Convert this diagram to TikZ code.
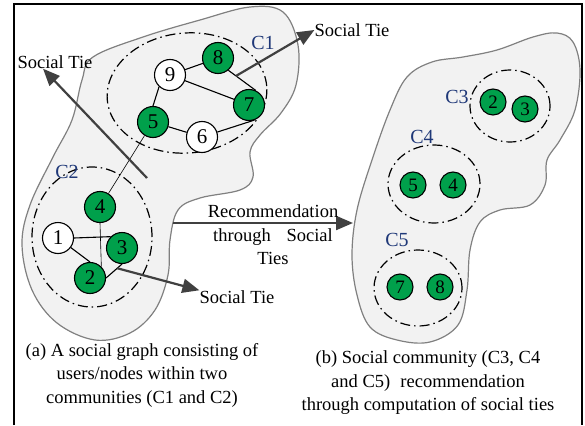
\documentclass[tikz,border=0pt]{standalone}
\usepackage{fontspec}
\setmainfont{Liberation Serif}
\usepackage{tikz}
\usetikzlibrary{arrows.meta}

\definecolor{usergreen}{RGB}{0,160,75}
\definecolor{commblue}{RGB}{31,56,120}
\definecolor{blobfill}{RGB}{242,242,242}
\definecolor{tiegray}{RGB}{64,64,64}

\begin{document}
\begin{tikzpicture}[x=1pt,y=-1pt]
	\useasboundingbox (0,0) rectangle (585,425);

		\tikzstyle{member}=[draw, circle, fill=usergreen, text=black, line width=1.1pt, minimum size=31pt, inner sep=0pt, font=\fontsize{21}{21}\selectfont]
		\tikzstyle{outsider}=[member, fill=white]
		\tikzstyle{small}=[member, minimum size=26pt, font=\fontsize{19}{19}\selectfont]

		\tikzstyle{blob}=[draw=gray, fill=blobfill, line width=1.2pt]
		\tikzstyle{community}=[draw, line width=1.2pt, dash pattern=on 10pt off 4pt on 1.5pt off 4pt]
		\tikzstyle{commname}=[text=commblue, font=\fontsize{20}{20}\selectfont]
		\tikzstyle{tietext}=[inner sep=0pt, font=\fontsize{18.5}{18.5}\selectfont]
		\tikzstyle{caption}=[align=center, font=\fontsize{18.5}{23.5}\selectfont]

		% frame
		\draw[line width=1.2pt] (14,425) -- (14,4) -- (582,4) -- (582,425);

		% the two groups
		\draw[blob] plot[smooth cycle, tension=0.6] coordinates {(93,57) (143,37) (200,20) (250,7) (283,12) (298,45) (296,85) (281,113) (260,135) (250,152) (253,177) (240,190) (200,198) (178,210) (170,240) (168,275) (155,310) (130,333) (95,340) (57,323) (32,290) (22,245) (30,205) (53,157) (72,120) (82,80)};
		\draw[blob] plot[smooth cycle, tension=0.6] coordinates {(390,110) (407,77) (432,62) (463,57) (497,50) (533,37) (557,33) (573,42) (580,70) (575,110) (560,140) (547,160) (545,185) (530,205) (500,210) (480,222) (470,250) (467,290) (458,325) (430,342) (397,340) (370,327) (357,295) (352,255) (357,210) (372,160)};

		% communities
		\draw[community] (187,93) ellipse [x radius=80pt, y radius=60pt, rotate=5];
		\draw[community] (92,237) ellipse [x radius=60pt, y radius=70pt];
		\draw[community] (510,106) ellipse [x radius=40pt, y radius=36pt];
		\draw[community] (434,184) ellipse [x radius=46pt, y radius=39pt];
		\draw[community] (418,288) ellipse [x radius=44pt, y radius=38pt];

		\node[commname] (C1) at (263,43) {C1};
		\node[commname] (C2) at (67,172) {C2};
		\node[commname] (C3) at (457,97) {C3};
		\node[commname] (C4) at (422,137) {C4};
		\node[commname] (C5) at (397,240) {C5};

		% users of the social graph
		\node[member] (N8) at (218,58) {8};
		\node[outsider] (N9) at (170,75) {9};
		\node[member] (N7) at (249,105) {7};
		\node[member] (N5) at (153,122) {5};
		\node[outsider] (N6) at (202,137) {6};
		\node[member] (N4) at (100,207) {4};
		\node[outsider] (N1) at (58,238) {1};
		\node[member] (N3) at (122,248) {3};
		\node[member] (N2) at (90,278) {2};

		\node[small] (R2) at (493,102) {2};
		\node[small] (R3) at (525,109) {3};
		\node[small] (R5) at (413,185) {5};
		\node[small] (R4) at (453,185) {4};
		\node[small] (R7) at (400,287) {7};
		\node[small] (R8) at (440,287) {8};

		\draw[line width=1.1pt] (N9) -- (N8);
		\draw[line width=1.1pt] (N8.-50) -- coordinate[pos=0.28] (T1) (N7.65);
		\draw[line width=1.1pt] (N9) -- (N7);
		\draw[line width=1.1pt] (N9.-133) -- (N5.north);
		\draw[line width=1.1pt] (N5) -- (N6);
		\draw[line width=1.1pt] (N6) -- (N7.-70);
		\draw[line width=0.6pt] (N5) -- (N4);
		\draw[line width=0.6pt] (N4.south) -- (N2.45);
		\draw[line width=1.1pt] (N1.east) -- (N3.north west);
		\draw[line width=1.1pt] (N1) -- (N2.north);
		\draw[line width=1.1pt] (N2.east) -- coordinate[pos=0.7] (T3) (N3.south);

		% social ties
		\tikzstyle{linkTie}=[-{Triangle[length=17pt,width=14pt]}, line width=2.2pt, color=tiegray]

		\node[tietext] (S1) at (352,30) {Social Tie};
		\node[tietext] (S2) at (55,62) {Social Tie};
		\node[tietext] (S3) at (237,297) {Social Tie};
		\coordinate (T2) at (147,178);

		\draw[linkTie] (T1) -- (S1.west);
		\draw[linkTie] (T2) -- ([xshift=-12pt]S2.south);
		\draw[linkTie] (T3) -- (S3.north west);

		\coordinate (RA) at (173,223);
		\coordinate (RB) at (353,223);
		\draw[linkTie] (RA) -- (RB);
		\node[caption] (RT) at (273,235) {Recommendation\\through\hspace{0.6em} Social\\Ties};

		\node[caption] (CA) at (142,375) {(a) A social graph consisting of\\users/nodes within two\\communities (C1 and C2)};
		\node[caption] (CB) at (428,383) {(b) Social community (C3, C4\\and C5)\hspace{0.3em} recommendation\\through computation of social ties};

	\end{tikzpicture}
\end{document}
